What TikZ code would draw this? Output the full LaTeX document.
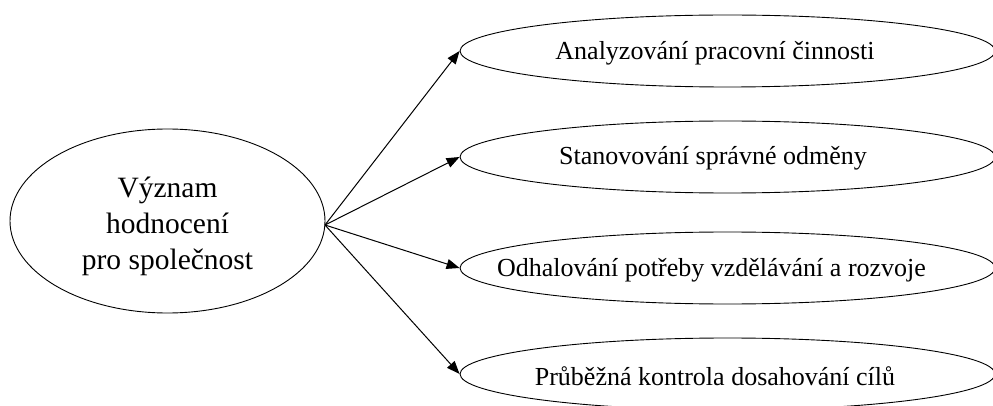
\documentclass[tikz,border=0pt]{standalone}
\usepackage{fontspec}
\setmainfont{Liberation Serif}
\usetikzlibrary{shapes.geometric,arrows.meta}

\tikzset{
  oval/.style={draw, ellipse, line width=0.9pt, inner sep=0pt},
  rightoval/.style={oval, minimum width=535pt, minimum height=72pt},
  item/.style={font=\fontsize{26}{30}\selectfont, inner sep=0pt},
  link/.style={line width=1pt, -{Triangle[length=13pt,width=10pt]}}
}

\begin{document}
\begin{tikzpicture}[x=1pt, y=-1pt]
  \useasboundingbox (0,0) rectangle (993,406);

  % central topic
  \node[oval, minimum width=315pt, minimum height=184pt] (src) at (167.5,221) {};
  \node[font=\fontsize{29.5}{36}\selectfont, align=center, inner sep=0pt] (srctext) at (167.5,226)
    {Význam\\hodnocení\\pro společnost};

  % four outcomes
  \node[rightoval] (e1) at (727.5,51) {};
  \node[rightoval] (e2) at (727.5,157) {};
  \node[rightoval] (e3) at (727.5,268) {};
  \node[rightoval] (e4) at (727.5,374) {};

  \node[item] (t1) at (715,53) {Analyzování pracovní činnosti};
  \node[item] (t2) at (713,158) {Stanovování správné odměny};
  \node[item] (t3) at (711.5,270) {Odhalování potřeby vzdělávání a rozvoje};
  \node[item] (t4) at (715,376) {Průběžná kontrola dosahování cílů};

  % connectors
  \coordinate (hub) at (325,225);
  \draw[link] (hub) -- (e1.west);
  \draw[link] (hub) -- (e2.west);
  \draw[link] (hub) -- (e3.west);
  \draw[link] (hub) -- (e4.west);
\end{tikzpicture}
\end{document}
